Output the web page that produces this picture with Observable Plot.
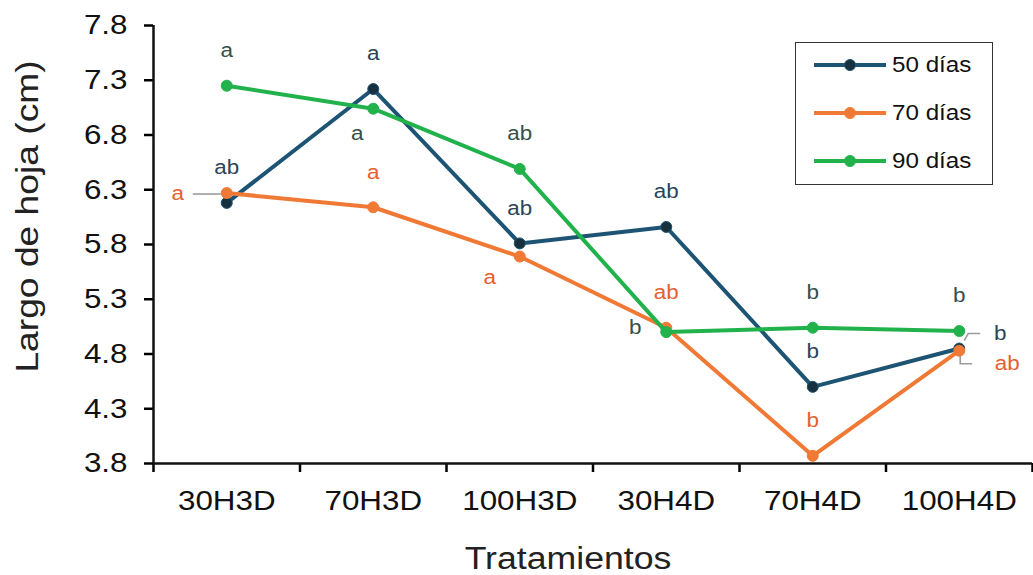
<!DOCTYPE html>
<html lang="es">
<head>
<meta charset="utf-8">
<script src="https://cdn.jsdelivr.net/npm/d3@7"></script>
<script src="https://cdn.jsdelivr.net/npm/@observablehq/plot@0.6"></script>
<style>
  html, body { margin: 0; padding: 0; background: #ffffff; }
  #chart { position: relative; width: 1033px; height: 575px; font-family: "Liberation Sans", Arial, sans-serif; }
  .leyenda { position: absolute; left: 795px; top: 42px; width: 196px; height: 141px;
             border: 1.5px solid #333; background: #fff; }
  .leyenda .fila { position: absolute; left: 0; height: 30px; display: flex; align-items: center; }
  .leyenda span { font-size: 22px; color: #111; display: inline-block;
                  transform: scaleX(1.1); transform-origin: left center; }
</style>
</head>
<body>
<div id="chart"></div>
<script>
// Tratamientos (eje X) y valores medios de largo de hoja (cm)
const tratamientos = ["30H3D", "70H3D", "100H3D", "30H4D", "70H4D", "100H4D"];
const dias50 = [6.18, 7.22, 5.81, 5.96, 4.50, 4.85];
const dias70 = [6.27, 6.14, 5.69, 5.04, 3.87, 4.83];
const dias90 = [7.25, 7.04, 6.49, 5.00, 5.04, 5.01];

// Letras de significancia por serie
const letras50 = ["ab", "a", "ab", "ab", "b", "b"];
const letras70 = ["a", "a", "a", "ab", "b", "ab"];
const letras90 = ["a", "a", "ab", "b", "b", "b"];

// Ubicación de cada letra respecto a su punto
const ubic50 = ["above", "above", "above", "above", "above", "leaderUp"];
const ubic70 = ["leaderLeft", "above", "leftBelow", "above", "above", "leaderDown"];
const ubic90 = ["above", "belowLeft", "above", "left", "above", "above"];

// Marcas del eje Y
const ticksY = [3.8, 4.3, 4.8, 5.3, 5.8, 6.3, 6.8, 7.3, 7.8];

const series = [
  {nombre: "50 días", valores: dias50, letras: letras50, ubic: ubic50,
   linea: "#1d5474", punto: "#17303d", texto: "#2b4557"},
  {nombre: "70 días", valores: dias70, letras: letras70, ubic: ubic70,
   linea: "#f07a35", punto: "#f07a35", texto: "#e5612f"},
  {nombre: "90 días", valores: dias90, letras: letras90, ubic: ubic90,
   linea: "#22b24c", punto: "#22b24c", texto: "#36504a"}
];

const filas = series.map(s => s.valores.map((v, i) => ({
  i, v, serie: s.nombre, letra: s.letras[i], ubic: s.ubic[i]
})));

// Desplazamientos (px) de la letra según su ubicación
const desplaz = {
  above: [0, -35], belowLeft: [-16, 25], leftBelow: [-30, 21], left: [-31, -5],
  leaderLeft: [-49, 1], leaderUp: [41, -15], leaderDown: [48, 13]
};

// Líneas guía cortas desde el punto hasta la letra
const guias = {
  leaderLeft: {draw(ctx) { ctx.moveTo(-34, 1); ctx.lineTo(-6, 1); }},
  leaderUp: {draw(ctx) { ctx.moveTo(5, -8); ctx.lineTo(9, -15); ctx.lineTo(21, -15); }},
  leaderDown: {draw(ctx) { ctx.moveTo(1, 3); ctx.lineTo(1, 13); ctx.lineTo(13, 13); }}
};

const fuente = "Liberation Sans, Arial, sans-serif";
const marks = [];

// Ejes
marks.push(Plot.axisY({ticks: ticksY, tickSize: 9, tickPadding: 17, strokeWidth: 2.5,
  tickFormat: d3.format(".1f"), fontSize: 28, fill: "#111", label: null}));
marks.push(Plot.axisX({ticks: d3.range(-0.5, tratamientos.length, 1), tickSize: 9, strokeWidth: 2.5,
  tickFormat: () => "", label: null}));
marks.push(Plot.axisX({ticks: d3.range(tratamientos.length), tickSize: 0, tickPadding: 27,
  tickFormat: i => tratamientos[i], fontSize: 28, fill: "#111", label: null}));
marks.push(Plot.ruleX([-0.5], {stroke: "#111", strokeWidth: 2.5}));
marks.push(Plot.ruleY([3.8], {stroke: "#111", strokeWidth: 2.5}));

// Títulos de los ejes
marks.push(Plot.text(["Largo de hoja (cm)"], {frameAnchor: "left", rotate: -90, textAnchor: "middle",
  lineAnchor: "middle", dx: -125, dy: -28, fontSize: 31, fill: "#222"}));
marks.push(Plot.text(["Tratamientos"], {frameAnchor: "bottom", textAnchor: "middle",
  lineAnchor: "middle", dx: -25, dy: 96, fontSize: 31, fill: "#222"}));

// Líneas guía
const todas = filas.flat();
for (const [clave, simbolo] of Object.entries(guias)) {
  marks.push(Plot.dot(todas.filter(d => d.ubic === clave), {x: "i", y: "v", symbol: simbolo,
    r: 5, fill: "none", stroke: "#9c9c9c", strokeWidth: 1.6}));
}

// Series: línea + puntos
series.forEach((s, k) => {
  marks.push(Plot.line(filas[k], {x: "i", y: "v", stroke: s.linea, strokeWidth: 4, curve: "linear"}));
  marks.push(Plot.dot(filas[k], {x: "i", y: "v", r: 5.5, fill: s.punto, stroke: s.linea, strokeWidth: 1}));
});

// Letras de significancia
series.forEach((s, k) => {
  for (const [clave, [dx, dy]] of Object.entries(desplaz)) {
    const sub = filas[k].filter(d => d.ubic === clave);
    if (sub.length) marks.push(Plot.text(sub, {x: "i", y: "v", text: "letra", dx, dy,
      fontSize: 20, fill: s.texto}));
  }
});

const grafico = Plot.plot({
  width: 1033,
  height: 575,
  marginLeft: 153,
  marginRight: 1,
  marginTop: 25,
  marginBottom: 112,
  style: {fontFamily: fuente, background: "#ffffff", overflow: "visible"},
  x: {type: "linear", domain: [-0.5, tratamientos.length - 0.5]},
  y: {domain: [3.8, 7.8]},
  marks
});

const cont = document.getElementById("chart");
cont.appendChild(grafico);

// Tipografía algo más ancha: se estira cada texto a lo largo de su línea base
grafico.querySelectorAll("text").forEach(t => {
  const txt = t.textContent;
  const factor = txt === "Largo de hoja (cm)" ? 1.2 : txt === "Tratamientos" ? 1.15 : 1.12;
  const largo = t.getComputedTextLength();
  if (largo > 0) {
    t.setAttribute("textLength", (largo * factor).toFixed(1));
    t.setAttribute("lengthAdjust", "spacingAndGlyphs");
  }
});

// Leyenda
const leyenda = document.createElement("div");
leyenda.className = "leyenda";
series.forEach((s, k) => {
  const fila = document.createElement("div");
  fila.className = "fila";
  fila.style.top = (7 + k * 48) + "px";
  fila.innerHTML = `<svg width="96" height="30" style="margin-left:18px">
      <line x1="0" x2="72" y1="15" y2="15" stroke="${s.linea}" stroke-width="4"/>
      <circle cx="36" cy="15" r="5.5" fill="${s.punto}" stroke="${s.linea}"/>
    </svg>`;
  const t = document.createElement("span");
  t.textContent = s.nombre;
  t.style.marginLeft = "-18px";
  fila.appendChild(t);
  leyenda.appendChild(fila);
});
cont.appendChild(leyenda);
</script>
</body>
</html>
